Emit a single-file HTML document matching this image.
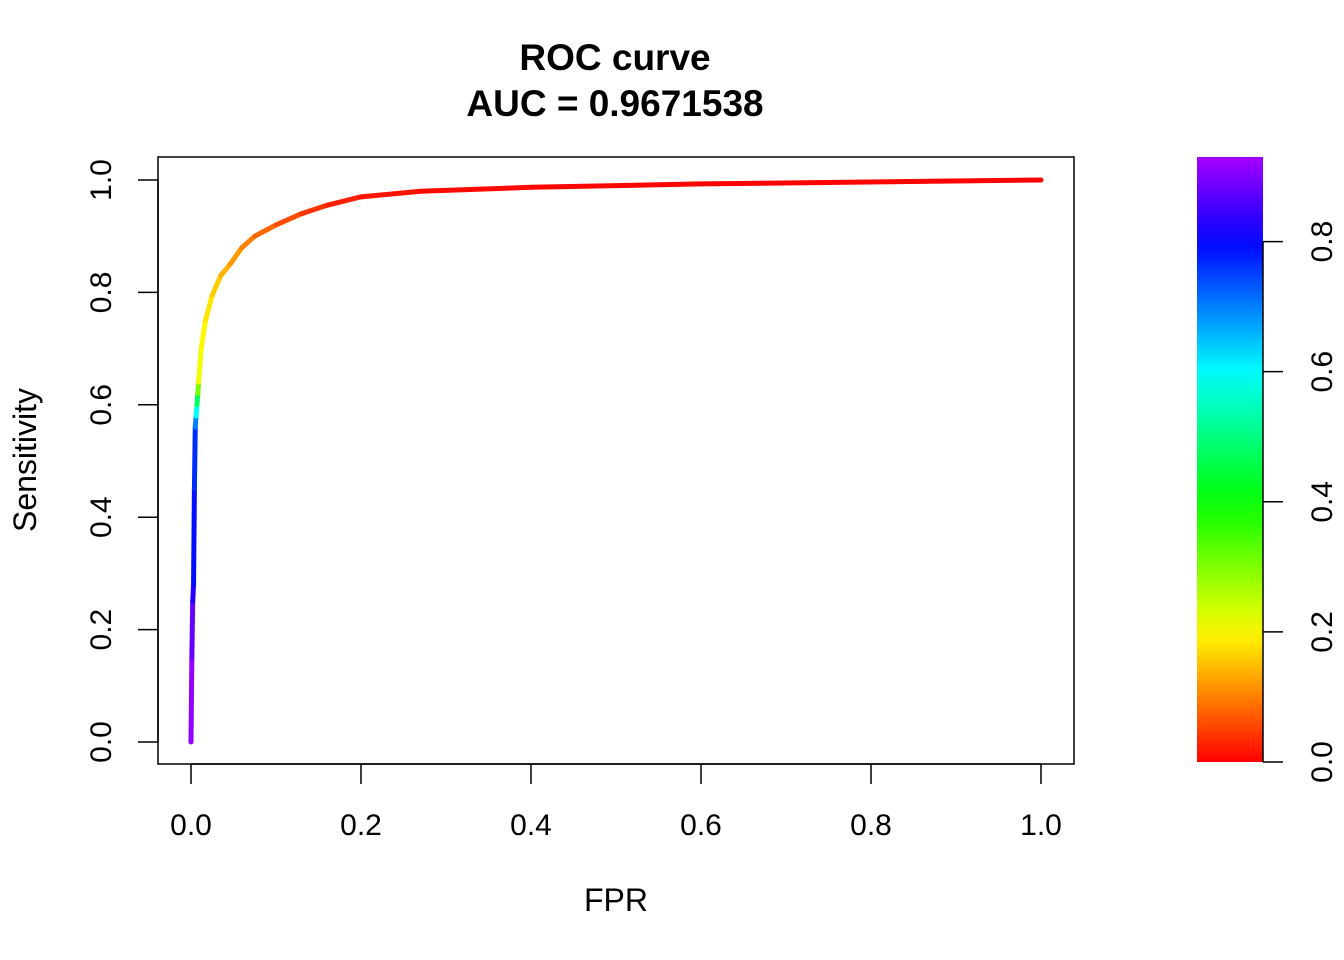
<!DOCTYPE html>
<html><head><meta charset="utf-8"><style>
body{margin:0;background:#fff}
svg{display:block;font-family:"Liberation Sans",Arial,sans-serif}
</style></head><body>
<svg id="chart" width="1344" height="960">
<text x="615" y="70" font-size="37" font-weight="bold" text-anchor="middle">ROC curve</text>
<text x="615" y="116" font-size="37" font-weight="bold" text-anchor="middle">AUC = 0.9671538</text>
<rect x="158" y="157" width="916" height="607" fill="none" stroke="#000" stroke-width="1.5"/>
<g id="xaxis"></g>
<g id="yaxis"></g>
<g id="curve"></g>
<text x="616" y="911" font-size="32" text-anchor="middle">FPR</text>
<text transform="translate(36,460) rotate(-90)" font-size="32" text-anchor="middle">Sensitivity</text>
<defs><linearGradient id="rb" x1="0" y1="1" x2="0" y2="0"></linearGradient></defs>
<rect id="cbar" x="1197" y="157" width="66" height="605" fill="url(#rb)"/>
<g id="caxis"></g>
</svg>
<script>
const fpr=[0,0.001,0.002,0.003,0.004,0.005,0.006,0.007,0.008,0.009,0.012,0.017,0.025,0.035,0.046,0.06,0.075,0.1,0.13,0.16,0.2,0.27,0.4,0.6,1];
const tpr=[0,0.15,0.25,0.28,0.45,0.56,0.58,0.60,0.62,0.64,0.70,0.75,0.795,0.83,0.85,0.88,0.90,0.92,0.94,0.955,0.97,0.98,0.987,0.993,1];
const thr=[0.93,0.90,0.86,0.80,0.78,0.75,0.65,0.55,0.40,0.22,0.20,0.19,0.17,0.15,0.13,0.11,0.09,0.07,0.05,0.03,0.02,0.01,0.005,0.003,0];
const xTicks=["0.0","0.2","0.4","0.6","0.8","1.0"];
const yTicks=["0.0","0.2","0.4","0.6","0.8","1.0"];
const cTicks=["0.0","0.2","0.4","0.6","0.8"];
const cMax=0.93;
const NS="http://www.w3.org/2000/svg";
const X=v=>191+v*850, Y=v=>742-v*562, CY=v=>762-v/cMax*605;
const col=t=>`hsl(${t*300},100%,50%)`;
function mk(tag,attrs,parent){const e=document.createElementNS(NS,tag);for(const k in attrs)e.setAttribute(k,attrs[k]);parent.appendChild(e);return e;}
const xa=document.getElementById('xaxis'),ya=document.getElementById('yaxis'),cv=document.getElementById('curve'),ca=document.getElementById('caxis');
mk('line',{x1:X(0),x2:X(1),y1:764,y2:764,stroke:'#000','stroke-width':1.5},xa);
xTicks.forEach(t=>{const v=+t;
 const l=mk('line',{x1:X(v),x2:X(v),y1:764,y2:784,stroke:'#000','stroke-width':1.5},xa);
 
 
 const tx=mk('text',{x:X(v),y:835,'font-size':30,'text-anchor':'middle'},xa);tx.textContent=t;
 
 });
mk('line',{x1:158,x2:158,y1:Y(0),y2:Y(1),stroke:'#000','stroke-width':1.5},ya);
yTicks.forEach(t=>{const v=+t;
 const l=mk('line',{x1:138,x2:158,y1:Y(v),y2:Y(v),stroke:'#000','stroke-width':1.5},ya);
 
 
 const tx=mk('text',{transform:`translate(111,${Y(v)}) rotate(-90)`,'font-size':30,'text-anchor':'middle'},ya);tx.textContent=t;
 
 });
for(let i=0;i<fpr.length-1;i++){
 const s=mk('line',{x1:X(fpr[i]),y1:Y(tpr[i]),x2:X(fpr[i+1]),y2:Y(tpr[i+1]),stroke:col((thr[i]+thr[i+1])/2),'stroke-width':5,'stroke-linecap':'round'},cv);
 
 }
const g=document.getElementById('rb');
for(let i=0;i<=20;i++){const f=i/20;mk('stop',{offset:f,'stop-color':col(f*cMax)},g);}
mk('line',{x1:1263,x2:1263,y1:CY(0),y2:CY(0.8),stroke:'#000','stroke-width':1.5},ca);
cTicks.forEach(t=>{const v=+t;
 const l=mk('line',{x1:1263,x2:1283,y1:CY(v),y2:CY(v),stroke:'#000','stroke-width':1.5},ca);
 
 
 const tx=mk('text',{transform:`translate(1332,${CY(v)}) rotate(-90)`,'font-size':30,'text-anchor':'middle'},ca);tx.textContent=t;
 
 });
</script>
</body></html>
